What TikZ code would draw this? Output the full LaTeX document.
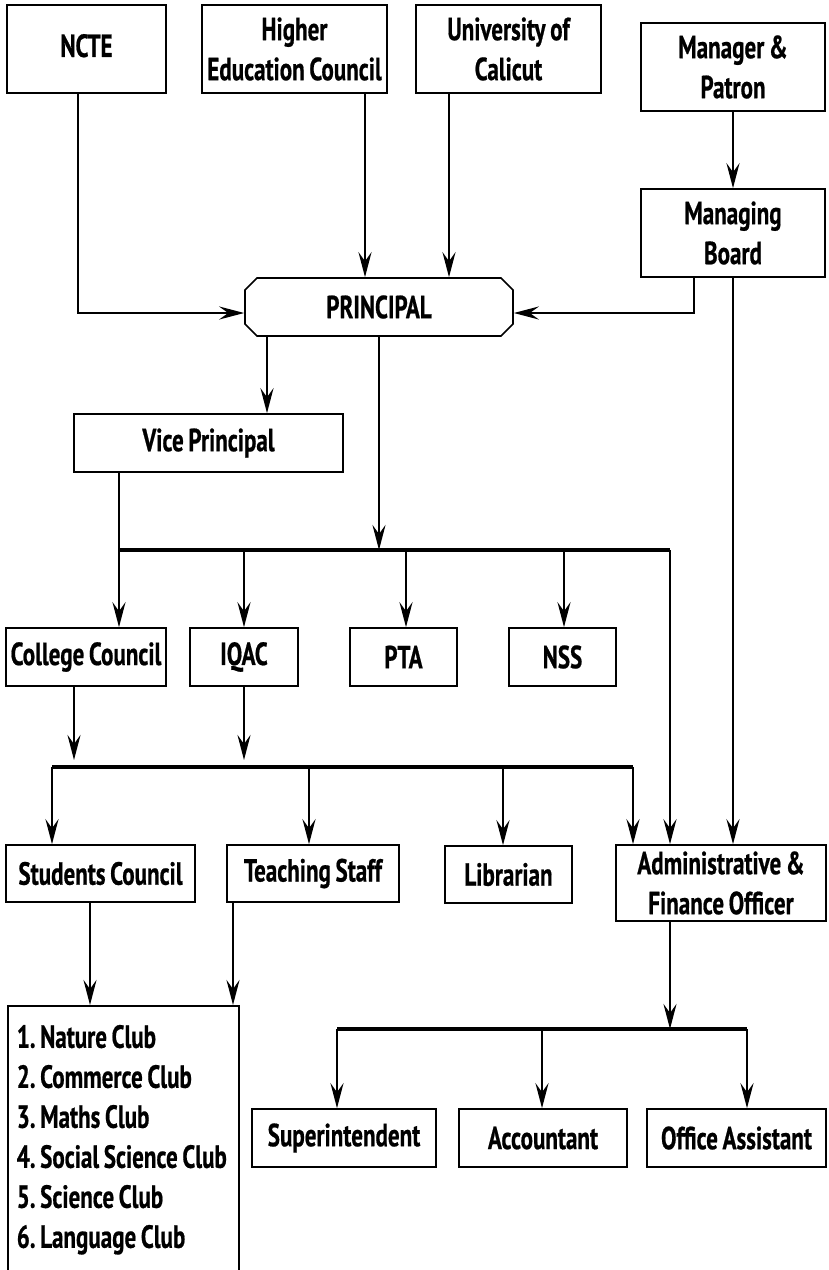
\documentclass[tikz,border=0pt]{standalone}
\usepackage{fontspec}
\newfontfamily\orgfont{PT Sans Bold}[FakeStretch=0.72,WordSpace=0.8,FakeBold=0.6]
\usetikzlibrary{arrows.meta,shapes.misc}

\tikzset{
  box/.style={draw,line width=1.6pt,inner sep=0pt,align=center,
    font=\orgfont\fontsize{32}{40}\selectfont},
  arr/.style={line width=2.8pt,-{Stealth[length=25pt,width=13pt,inset=9pt]}},
  bus/.style={line width=3.8pt},
}

\begin{document}
\frenchspacing
\begin{tikzpicture}[x=1pt,y=-1pt]
  \useasboundingbox (0,0) rectangle (828,1270);
  \clip (0,0) rectangle (828,1270);

  % top row
  \node[box,minimum width=159,minimum height=88] (ncte) at (86.5,49) {\raisebox{7pt}{NCTE}};
  \node[box,minimum width=185,minimum height=88] (hec) at (294.5,49) {Higher\\Education Council};
  \node[box,minimum width=185,minimum height=88] (uoc) at (508.5,49) {University of\\Calicut};
  \node[box,minimum width=184,minimum height=88] (mgr) at (733,67) {Manager \&\\Patron};
  \node[box,minimum width=184,minimum height=88] (board) at (733,233) {Managing\\Board};

  \node[box,chamfered rectangle,chamfered rectangle xsep=6pt,chamfered rectangle ysep=6pt,
    minimum width=268,minimum height=58] (principal) at (379,307) {PRINCIPAL};
  \node[box,minimum width=269,minimum height=58] (vp) at (208.5,443) {Vice Principal};

  % committees
  \node[box,minimum width=160,minimum height=58] (cc) at (86,657) {College Council};
  \node[box,minimum width=108,minimum height=58] (iqac) at (244,657) {IQAC};
  \node[box,minimum width=107,minimum height=58] (pta) at (403.5,657) {PTA};
  \node[box,minimum width=107,minimum height=58] (nss) at (562.5,657) {NSS};

  % staff
  \node[box,minimum width=189,minimum height=57] (sc) at (100.5,873.5) {Students Council};
  \node[box,minimum width=172,minimum height=57] (ts) at (313,873.5) {Teaching Staff};
  \node[box,minimum width=127,minimum height=57] (lib) at (508.5,874.5) {Librarian};
  \node[box,minimum width=210,minimum height=76] (admin) at (721,883) {Administrative \&\\Finance Officer};

  \node[box,anchor=north west,align=flush left,text width=213,inner xsep=9pt,inner ysep=14pt] (clubs) at (7,1005)
    {\strut 1. Nature Club\\2. Commerce Club\\3. Maths Club\\4. Social Science Club\\5. Science Club\\6. Language Club\strut};

  % office
  \node[box,minimum width=184,minimum height=58] (sup) at (344,1138) {Superintendent};
  \node[box,minimum width=168,minimum height=58] (acc) at (543,1138) {Accountant};
  \node[box,minimum width=179,minimum height=58] (oa) at (736.5,1138) {Office Assistant};

  % bus lines
  \coordinate (b1l) at (119,550);
  \coordinate (b1iqac) at (244,550);
  \coordinate (b1pta) at (406,550);
  \coordinate (b1nss) at (564,550);
  \coordinate (b1r) at (670,550);
  \coordinate (b2top) at (0,760);
  \coordinate (b2l) at (52,767);
  \coordinate (b2ts) at (309,767);
  \coordinate (b2lib) at (503,767);
  \coordinate (b2r) at (633,767);
  \coordinate (b3l) at (337,1029);
  \coordinate (b3acc) at (542,1029);
  \coordinate (b3r) at (747,1029);
  \draw[bus] (b1l) -- (b1r);
  \draw[bus] (b2l) -- (b2r);
  \draw[bus] (b3l) -- (b3r);

  % into principal
  \coordinate (nctout) at ([xshift=-8.5pt]ncte.south);
  \coordinate (hecout) at ([xshift=70.5pt]hec.south);
  \coordinate (uocout) at ([xshift=-59.5pt]uoc.south);
  \coordinate (bdout) at ([xshift=-39pt]board.south);
  \draw[arr] (nctout) |- ([yshift=-6pt]principal.west);
  \draw[arr] (hecout) -- (hecout |- principal.north);
  \draw[arr] (uocout) -- (uocout |- principal.north);
  \draw[arr] (mgr.south) -- (board.north);
  \draw[arr] (bdout) |- ([yshift=-6pt]principal.east);
  \draw[arr] (board.south) -- (board.south |- admin.north);

  % out of principal
  \coordinate (pvp) at (267,336);
  \draw[arr] (pvp) -- (pvp |- vp.north);
  \draw[arr] (principal.south) -- (principal.south |- b1l);
  \coordinate (vpout) at ([xshift=-89.5pt]vp.south);
  \draw[line width=2.8pt] (vpout) -- (b1l);
  \draw[arr] (b1l) -- (b1l |- cc.north);
  \draw[arr] (b1iqac) -- (b1iqac |- iqac.north);
  \draw[arr] (b1pta) -- (b1pta |- pta.north);
  \draw[arr] (b1nss) -- (b1nss |- nss.north);
  \draw[arr] (b1r) -- (b1r |- admin.north);

  % committees to staff
  \coordinate (ccout) at ([xshift=-12pt]cc.south);
  \draw[arr] (ccout) -- (ccout |- b2top);
  \draw[arr] (iqac.south) -- (iqac.south |- b2top);
  \draw[arr] (b2l) -- (b2l |- sc.north);
  \draw[arr] (b2ts) -- (b2ts |- ts.north);
  \draw[arr] (b2lib) -- (b2lib |- lib.north);
  \draw[arr] (b2r) -- (b2r |- admin.north);

  % clubs
  \coordinate (scout) at ([xshift=-10.5pt]sc.south);
  \coordinate (tsout) at ([xshift=-80pt]ts.south);
  \draw[arr] (scout) -- (scout |- clubs.north);
  \draw[arr] (tsout) -- (tsout |- clubs.north);

  % office
  \coordinate (adout) at ([xshift=-51pt]admin.south);
  \draw[arr] (adout) -- (adout |- b3l);
  \draw[arr] (b3l) -- (b3l |- sup.north);
  \draw[arr] (b3acc) -- (b3acc |- acc.north);
  \draw[arr] (b3r) -- (b3r |- oa.north);
\end{tikzpicture}
\end{document}
